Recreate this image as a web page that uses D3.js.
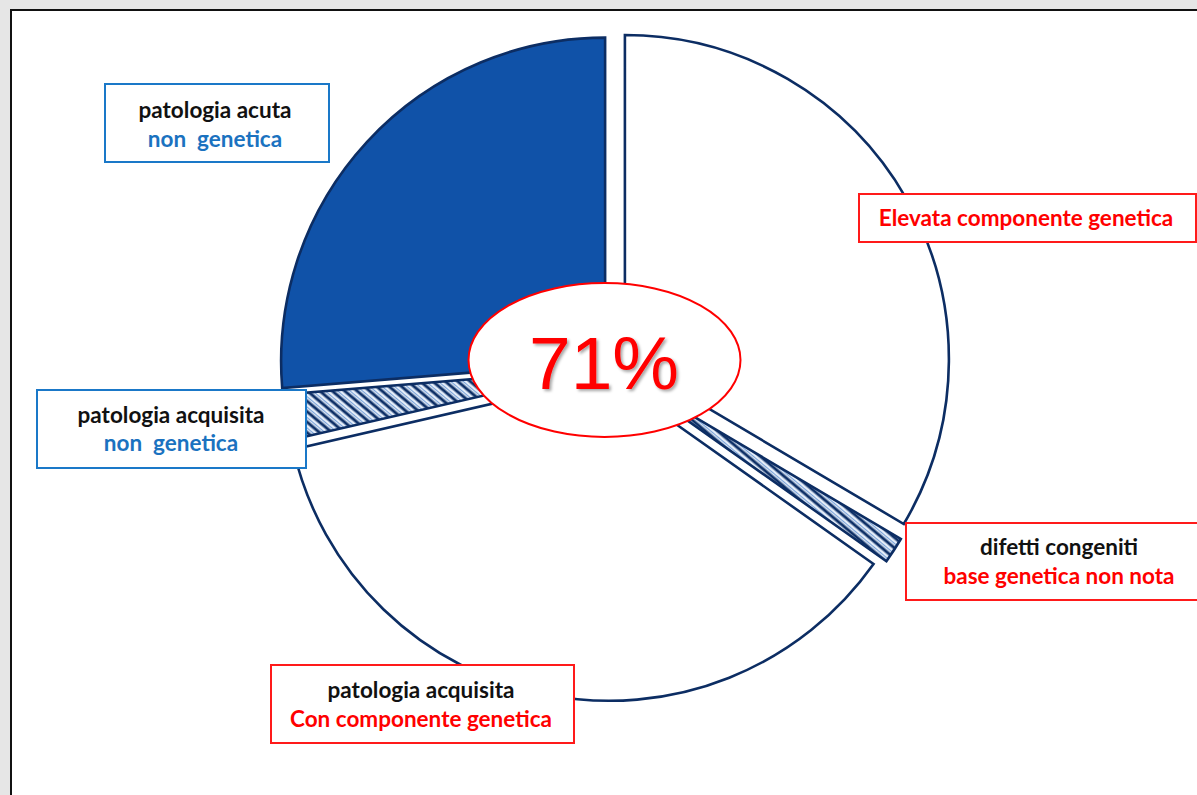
<!DOCTYPE html>
<html>
<head>
<meta charset="utf-8">
<script src="https://cdn.jsdelivr.net/npm/d3@7"></script>
<style>
  html, body { margin: 0; padding: 0; background: #e6e6e6; }
  svg { display: block; }
  text { font-family: Lato, "Open Sans", sans-serif; font-weight: 700; white-space: pre; }
</style>
</head>
<body>
<svg id="chart" width="1197" height="795"></svg>
<script>
// Share of each disease group (percent of the whole)
const categories = [
  "Elevata componente genetica",
  "difetti congeniti",
  "patologia acquisita con componente genetica",
  "patologia acquisita non genetica",
  "patologia acuta non genetica"
];
const values = [33.5, 1.3, 36.6, 2.3, 26.3];

// Two-line captions: first line in black, second line in the group colour
const captionTop = ["", "difetti congeniti", "patologia acquisita", "patologia acquisita", "patologia acuta"];
const captionBottom = ["Elevata componente genetica", "base genetica non nota", "Con componente genetica", "non  genetica", "non  genetica"];

// Genetic share highlighted in the centre
const headline = "71%";

const W = 1197, H = 795;
const svg = d3.select("#chart");

// page panel
svg.append("rect").attr("width", W).attr("height", H).attr("fill", "#e6e6e6");
svg.append("rect").attr("x", 11).attr("y", 10).attr("width", W + 20).attr("height", H + 20)
  .attr("fill", "#ffffff").attr("stroke", "#111").attr("stroke-width", 2);

const defs = svg.append("defs");
const hatch = defs.append("pattern")
  .attr("id", "hatch").attr("patternUnits", "userSpaceOnUse")
  .attr("width", 8).attr("height", 8)
  .attr("patternTransform", "rotate(-50)");
hatch.append("rect").attr("width", 8).attr("height", 8).attr("fill", "#e6eef9");
hatch.append("line").attr("x1", 2).attr("y1", 0).attr("x2", 2).attr("y2", 8)
  .attr("stroke", "#0d2f66").attr("stroke-width", 3);
hatch.append("line").attr("x1", 5.4).attr("y1", 0).attr("x2", 5.4).attr("y2", 8)
  .attr("stroke", "#6f9bd6").attr("stroke-width", 1);

const shadow = defs.append("filter").attr("id", "shadow")
  .attr("x", "-20%").attr("y", "-20%").attr("width", "140%").attr("height", "140%");
shadow.append("feDropShadow").attr("dx", 2).attr("dy", 2).attr("stdDeviation", 1.5)
  .attr("flood-color", "#000").attr("flood-opacity", 0.35);

// pie layout
const cx = 611, cy = 367, R = 324;
const explode = [16, 13, 10, 10, 8];
const fills = ["#ffffff", "url(#hatch)", "#ffffff", "url(#hatch)", "#1052a8"];

const data = categories.map((c, i) => ({ name: c, value: values[i] }));
const pie = d3.pie().sort(null).value(d => d.value).startAngle(0).endAngle(2 * Math.PI);
const arc = d3.arc().innerRadius(0).outerRadius(R);

svg.append("g").selectAll("path")
  .data(pie(data))
  .join("path")
  .attr("d", arc)
  .attr("transform", (d, i) => {
    const mid = (d.startAngle + d.endAngle) / 2;
    return `translate(${cx + Math.sin(mid) * explode[i]},${cy - Math.cos(mid) * explode[i]})`;
  })
  .attr("fill", (d, i) => fills[i])
  .attr("stroke", "#0c2d63")
  .attr("stroke-width", 2.6)
  .attr("stroke-linejoin", "miter");

// caption boxes
const boxes = [
  { x: 859, y: 194, w: 337, h: 48, cx: 1026, b1: null, b2: 226, border: "#ff1a1a", c2: "#ff0000" },
  { x: 906, y: 523, w: 320, h: 77, cx: 1059, b1: 555, b2: 584, border: "#ff1a1a", c2: "#ff0000" },
  { x: 271, y: 665, w: 303, h: 78, cx: 421, b1: 698, b2: 727, border: "#ff1a1a", c2: "#ff0000" },
  { x: 37, y: 390, w: 269, h: 78, cx: 171, b1: 423, b2: 451, border: "#1a78c8", c2: "#1b72c0" },
  { x: 105, y: 84, w: 224, h: 78, cx: 215, b1: 118, b2: 147, border: "#1a78c8", c2: "#1b72c0" }
];

const cap = svg.append("g");
boxes.forEach((b, i) => {
  cap.append("rect").attr("x", b.x).attr("y", b.y).attr("width", b.w).attr("height", b.h)
    .attr("fill", "#fff").attr("stroke", b.border).attr("stroke-width", 2);
  if (captionTop[i]) {
    cap.append("text").attr("x", b.cx).attr("y", b.b1).attr("text-anchor", "middle")
      .attr("font-size", 22.5).attr("fill", "#111").text(captionTop[i]);
  }
  cap.append("text").attr("x", b.cx).attr("y", b.b2).attr("text-anchor", "middle")
    .attr("font-size", 22.5).attr("fill", b.c2).text(captionBottom[i]);
});

// centre highlight
svg.append("ellipse").attr("cx", 604.5).attr("cy", 360).attr("rx", 136).attr("ry", 77)
  .attr("fill", "#fff").attr("stroke", "#ff0000").attr("stroke-width", 2);
svg.append("text").attr("x", 604).attr("y", 389).attr("text-anchor", "middle")
  .style("font-family", "'Liberation Sans', Arial, sans-serif").style("font-weight", 400)
  .attr("font-size", 75).attr("fill", "#ff0000").attr("filter", "url(#shadow)")
  .text(headline);
</script>
</body>
</html>
